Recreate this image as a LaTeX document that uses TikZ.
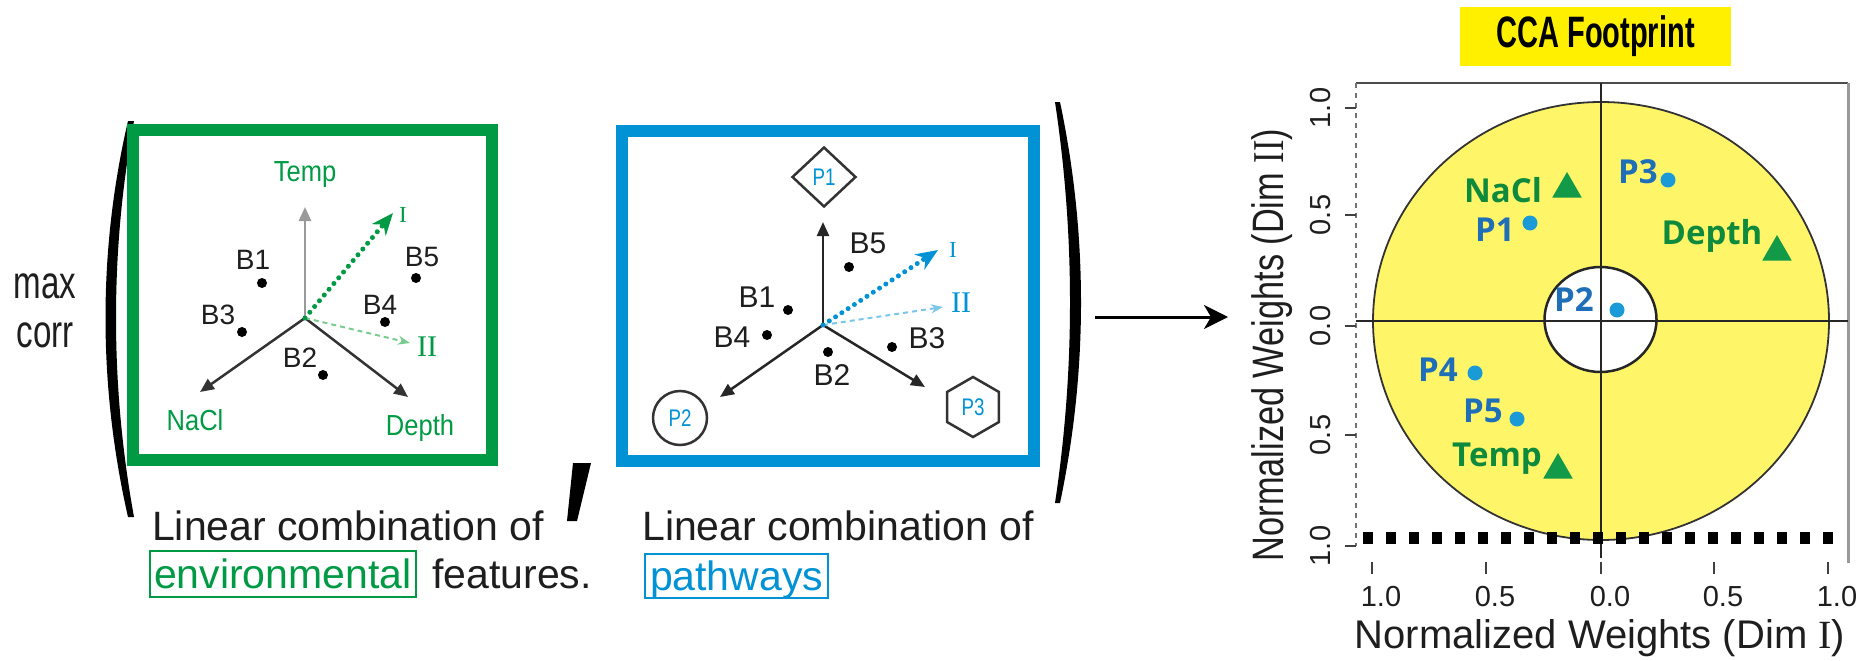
\documentclass[tikz,border=0pt]{standalone}
\usepackage{fontspec}
\usepackage{graphicx}
\setmainfont{Liberation Sans}
\newfontfamily\plotfont{Open Sans}
\newfontfamily\romanfont{Liberation Serif}
\usetikzlibrary{arrows.meta,shapes.geometric}
\newcommand\fsz[1]{\fontsize{#1pt}{#1pt}\selectfont}
\definecolor{envgreen}{HTML}{009A44}
\definecolor{lightgreen}{HTML}{7ACB8E}
\definecolor{pathblue}{HTML}{0092D4}
\definecolor{lightblue}{HTML}{7CC6EA}
\definecolor{plotyellow}{RGB}{255,245,105}
\definecolor{ccayellow}{RGB}{255,240,0}
\definecolor{plotgreen}{HTML}{0E8A3C}
\definecolor{trigreen}{HTML}{129A48}
\definecolor{plotblue}{HTML}{1F6FB8}
\definecolor{dotblue}{HTML}{1A9AD6}
\definecolor{textdark}{HTML}{1E1E1E}
\tikzset{
  bigbox/.style={line width=12pt},
  blab/.style={inner sep=0pt, text=textdark},
  bdot/.style={circle, fill=black, inner sep=0pt, minimum size=10pt},
  axarr/.style={line width=2.5pt, -{Triangle[length=14pt,width=12pt]}},
  dotarr/.style={line width=5pt, dash pattern=on 0pt off 7.5pt, line cap=round, -{Stealth[length=22pt,width=18pt]}},
  dasharr/.style={line width=2pt, dash pattern=on 5pt off 4pt, -{Stealth[length=12pt,width=9pt]}},
  axname/.style={inner sep=0pt, text=envgreen, font=\fsz{29}},
  roman/.style={inner sep=0pt, font=\romanfont},
  pshape/.style={draw=black!80, line width=2.5pt, inner sep=0pt, text=pathblue, font=\fsz{24}},
  ptlab/.style={inner sep=0pt, font=\plotfont\bfseries\fsz{33}},
  pdot/.style={circle, fill=dotblue, inner sep=0pt, minimum size=15pt},
  ptri/.style={regular polygon, regular polygon sides=3, fill=trigreen, inner sep=0pt, minimum size=34pt},
  tick/.style={line width=1.5pt, black!75},
  ticklab/.style={inner sep=0pt, font=\fsz{29}, text=textdark},
  caption/.style={inner sep=0pt, font=\fsz{41}, text=textdark},
}
\begin{document}
\begin{tikzpicture}[x=1pt,y=-1pt]
\useasboundingbox (0,0) rectangle (1863,661);

% ---------- max corr and brackets ----------
\node[anchor=base, inner sep=0pt, text=textdark] (max) at (45,298) {\fsz{46}\scalebox{0.72}[1]{max}};
\node[anchor=base, inner sep=0pt, text=textdark] (corr) at (45,347) {\fsz{46}\scalebox{0.72}[1]{corr}};
\fill[black] (128,121) .. controls (98,250) and (98,385) .. (128,517)
   -- (134,517) .. controls (110,385) and (110,250) .. (134,121) -- cycle;
\fill[black] (1060,102) .. controls (1088,235) and (1088,370) .. (1060,503)
   -- (1055,503) .. controls (1075,370) and (1075,235) .. (1055,102) -- cycle;
\fill[black] (573,463) -- (591,463) -- (577,521) -- (567,521) -- cycle;

% ---------- green box ----------
\draw[bigbox, envgreen] (133,130) rectangle (492,460);
\coordinate (go) at (305,318);
\coordinate (gtemp) at (305,207);
\coordinate (gnacl) at (200,392);
\coordinate (gdepth) at (408,397);
\coordinate (gI) at (393,213);
\coordinate (gII) at (410,343);
\draw[axarr, black!40] (go) -- (gtemp);
\draw[axarr, black!80] (go) -- (gnacl);
\draw[axarr, black!80] (go) -- (gdepth);
\draw[dasharr, lightgreen] (go) -- (gII);
\draw[dotarr, envgreen] (go) -- (gI);
\node[roman, text=envgreen, font=\romanfont\fsz{23}] (gIl) at (403,215) {I};
\node[roman, text=envgreen, font=\romanfont\fsz{30}] (gIIl) at (427,347) {II};
\node[axname] (gtempl) at (305,175) {\scalebox{0.88}[1]{Temp}};
\node[axname] (gnacll) at (195,420) {\scalebox{0.88}[1]{NaCl}};
\node[axname] (gdepthl) at (420,428) {\scalebox{0.88}[1]{Depth}};
\node[blab, font=\fsz{28}] (gb1) at (253,260) {B1};
\node[bdot] (gb1d) at (262,283) {};
\node[blab, font=\fsz{28}] (gb3) at (218,315) {B3};
\node[bdot] (gb3d) at (242,332) {};
\node[blab, font=\fsz{28}] (gb2) at (300,358) {B2};
\node[bdot] (gb2d) at (323,375) {};
\node[blab, font=\fsz{28}] (gb4) at (380,305) {B4};
\node[bdot] (gb4d) at (385,322) {};
\node[blab, font=\fsz{28}] (gb5) at (422,257) {B5};
\node[bdot] (gb5d) at (416,278) {};

% ---------- blue box ----------
\draw[bigbox, pathblue] (622,131) rectangle (1034,461);
\coordinate (bo) at (823,325);
\coordinate (bup) at (823,222);
\coordinate (bleft) at (720,397);
\coordinate (bright) at (925,387);
\coordinate (bI) at (938,250);
\coordinate (bII) at (943,307);
\draw[axarr, black!85] (bo) -- (bup);
\draw[axarr, black!85] (bo) -- (bleft);
\draw[axarr, black!85] (bo) -- (bright);
\draw[dasharr, lightblue] (bo) -- (bII);
\draw[dotarr, pathblue] (bo) -- (bI);
\node[roman, text=pathblue, font=\romanfont\fsz{23}] (bIl) at (953,250) {I};
\node[roman, text=pathblue, font=\romanfont\fsz{30}] (bIIl) at (961,303) {II};
\node[pshape, diamond, minimum width=64pt, minimum height=60pt] (p1) at (824,177) {\scalebox{0.78}[1]{P1}};
\node[pshape, circle, minimum size=54pt] (p2) at (680,418) {\scalebox{0.78}[1]{P2}};
\node[pshape, regular polygon, regular polygon sides=6, shape border rotate=30, minimum size=60pt] (p3) at (973,407) {\scalebox{0.78}[1]{P3}};
\node[blab, font=\fsz{30}] (bb5) at (868,243) {B5};
\node[bdot] (bb5d) at (849,267) {};
\node[blab, font=\fsz{30}] (bb1) at (757,297) {B1};
\node[bdot] (bb1d) at (788,310) {};
\node[blab, font=\fsz{30}] (bb4) at (732,337) {B4};
\node[bdot] (bb4d) at (767,335) {};
\node[blab, font=\fsz{30}] (bb2) at (832,375) {B2};
\node[bdot] (bb2d) at (828,352) {};
\node[blab, font=\fsz{30}] (bb3) at (927,338) {B3};
\node[bdot] (bb3d) at (892,347) {};

% ---------- captions ----------
\node[caption, anchor=base west] (cap1) at (152,540) {Linear combination of};
\node[caption, anchor=base west, draw=envgreen, line width=2pt, text=envgreen,
      inner xsep=4pt, inner ysep=7pt, text height=30pt, text depth=2pt] (env) at (149,588) {environmental};
\node[caption, anchor=base west] (feat) at (432,588) {features.};
\node[caption, anchor=base west] (cap2) at (642,540) {Linear combination of};
\node[caption, anchor=base west, draw=pathblue, line width=2pt, text=pathblue,
      inner xsep=5pt, inner ysep=6pt, text height=30pt, text depth=2pt] (path) at (644,590) {pathways};

% ---------- middle arrow ----------
\coordinate (as) at (1095,317);
\coordinate (ae) at (1228,317);
\draw[line width=3pt, -{Stealth[length=24pt,width=24pt,inset=7pt]}] (as) -- (ae);

% ---------- CCA plot ----------
\node[fill=ccayellow, minimum width=271pt, minimum height=59pt, inner sep=0pt] (cca) at (1595.5,36.5)
   {\fsz{44}\bfseries\scalebox{0.66}[1]{CCA Footprint}\hspace{16pt}};
\coordinate (pc) at (1601,321);
\fill[plotyellow] (pc) ellipse [x radius=228, y radius=219];
\draw[line width=1.8pt, black!80] (pc) ellipse [x radius=228, y radius=219];
\draw[line width=2.5pt, black!85, fill=white] (1600.5,319.5) ellipse [x radius=56, y radius=52.5];
% frame
\coordinate (ftl) at (1356,83);
\coordinate (ftr) at (1848,83);
\coordinate (fbr) at (1848,563);
\coordinate (fbl) at (1356,546);
\draw[line width=2.5pt, black!70] (ftl) -- (ftr);
\draw[line width=3pt, black!40] (ftr) -- (fbr);
\draw[line width=1.5pt, black!55, dash pattern=on 5pt off 5pt] (ftl) -- (fbl);
% axes
\coordinate (hl) at (1356,321);
\coordinate (hr) at (1848,321);
\coordinate (vt) at (1601,83);
\coordinate (vb) at (1601,558);
\draw[line width=2pt, black!85] (hl) -- (hr);
\draw[line width=2pt, black!85] (vt) -- (vb);
% bottom heavy dashes
\coordinate (dl) at (1363,538);
\coordinate (dr) at (1834,538);
\draw[line width=12pt, black, dash pattern=on 10pt off 13pt] (dl) -- (dr);
% y ticks
\foreach \yy/\lab [count=\i] in {108/1.0,215/0.5,326/0.0,435/0.5,546/1.0}{
  \draw[tick] (1345,\yy) -- (1356,\yy);
  \node[ticklab, rotate=90] (yt\i) at (1321,\yy) {\lab};
}
% x ticks
\foreach \xx/\lab [count=\i] in {1372/1.0,1486/0.5,1601/0.0,1714/0.5,1828/1.0}{
  \draw[tick] (\xx,562) -- (\xx,574);
  \node[ticklab] (xt\i) at (\xx+9,597) {\lab};
}
\node[inner sep=0pt, rotate=90, font=\fsz{44}, text=textdark] (ylab) at (1272,345)
   {\scalebox{0.78}[1]{Normalized Weights (Dim {\romanfont II})}};
\node[inner sep=0pt, font=\fsz{40}, text=textdark] (xlab) at (1600,638) {Normalized Weights (Dim {\romanfont I})};
% data points
\node[ptri] (tnacl) at (1567,189) {};
\node[ptlab, text=plotgreen] (lnacl) at (1503,190) {NaCl};
\node[ptri] (tdepth) at (1777,252) {};
\node[ptlab, text=plotgreen] (ldepth) at (1712,236) {Depth};
\node[ptri] (ttemp) at (1558,470) {};
\node[ptlab, text=plotgreen] (ltemp) at (1497,459) {Temp};
\node[pdot] (dp3) at (1668,180) {};
\node[ptlab, text=plotblue] (lp3) at (1638,172) {P3};
\node[pdot] (dp1) at (1530,223) {};
\node[ptlab, text=plotblue] (lp1) at (1495,230) {P1};
\node[pdot] (dp2) at (1617,310) {};
\node[ptlab, text=plotblue] (lp2) at (1574,300) {P2};
\node[pdot] (dp4) at (1475,373) {};
\node[ptlab, text=plotblue] (lp4) at (1438,370) {P4};
\node[pdot] (dp5) at (1517,419) {};
\node[ptlab, text=plotblue] (lp5) at (1483,411) {P5};
\end{tikzpicture}
\end{document}
